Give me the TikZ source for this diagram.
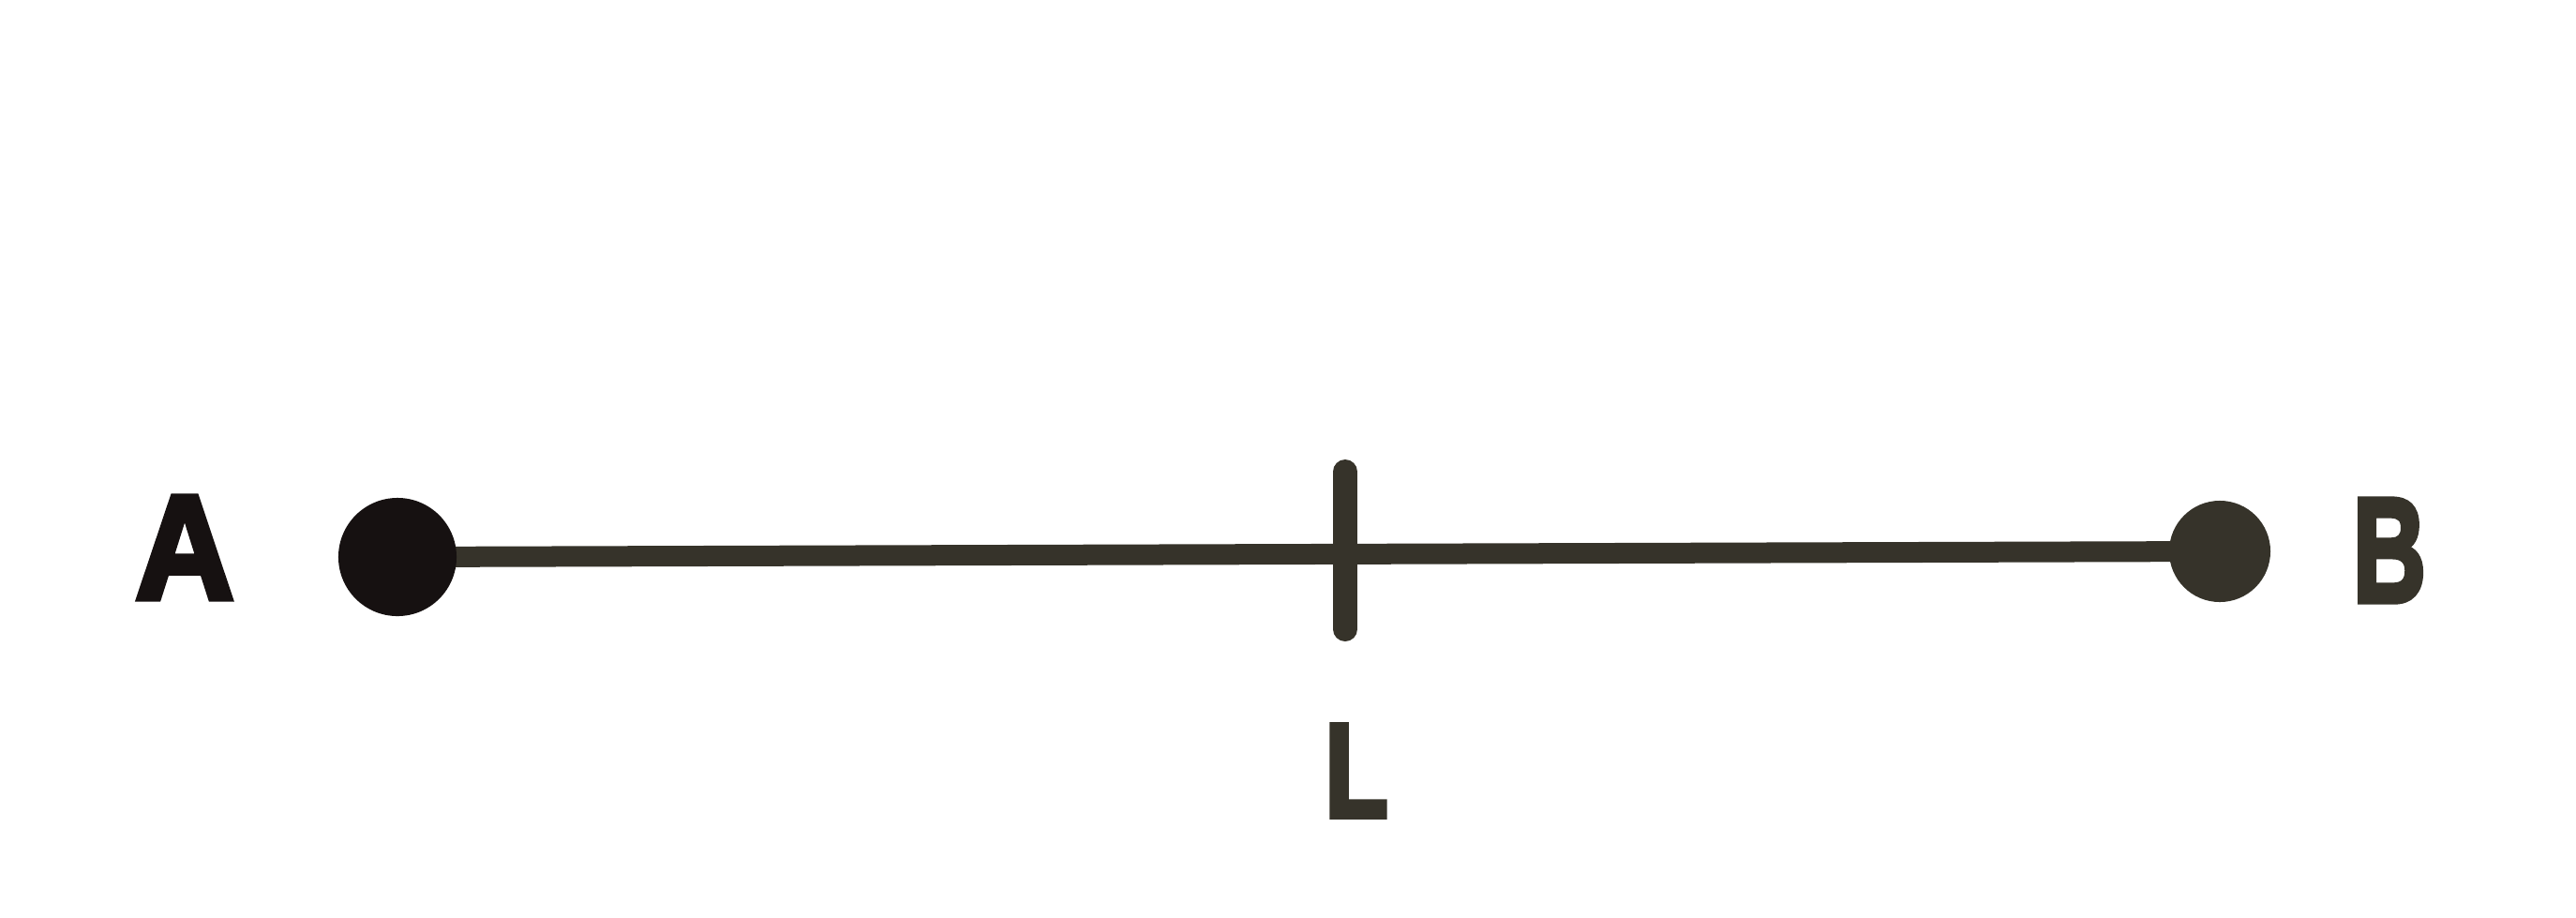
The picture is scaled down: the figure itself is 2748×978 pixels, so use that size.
\documentclass[tikz,border=0pt]{standalone}
\usepackage{fontspec}
\setmainfont{Liberation Sans}
\newfontfamily\letterfont[FakeBold=4]{Liberation Sans Bold}
\usepackage{xcolor}
\usetikzlibrary{calc}
\definecolor{paper}{HTML}{FFFFFF}
\definecolor{inkdark}{HTML}{161111}
\definecolor{ink}{HTML}{36332A}
\tikzset{
  rod/.style={draw=ink, line width=0.22cm},
  notch/.style={draw=ink, line width=0.26cm, line cap=round},
  blob/.style={circle, fill=#1, inner sep=0pt},
  lab/.style={text=ink, font=\letterfont\fontsize{45}{45}\selectfont, inner sep=0pt},
}

\begin{document}
\begin{tikzpicture}[x=0.01cm,y=-0.01cm]
  \useasboundingbox[fill=paper] (0,0) rectangle (2748,978);

  \coordinate (pA) at (424,594);
  \coordinate (pB) at (2368,588);
  \draw[rod] (pA) -- (pB);
  \node[blob=inkdark, minimum size=1.26cm] (dotA) at (pA) {};
  \node[blob=ink, minimum size=1.08cm] (dotB) at (pB) {};

  % mark at the middle of the rod
  \coordinate (mid) at (1435,587);
  \draw[notch] ($(mid)+(0,-84)$) -- ($(mid)+(0,84)$);

  \node[lab, text=inkdark, xscale=0.92] (labA) at (197,584) {A};
  \node[lab, xscale=0.68] (labB) at (2549,587) {B};
  \node[lab, xscale=0.7, yscale=0.9] (labL) at (1447,822) {L};
\end{tikzpicture}
\end{document}
